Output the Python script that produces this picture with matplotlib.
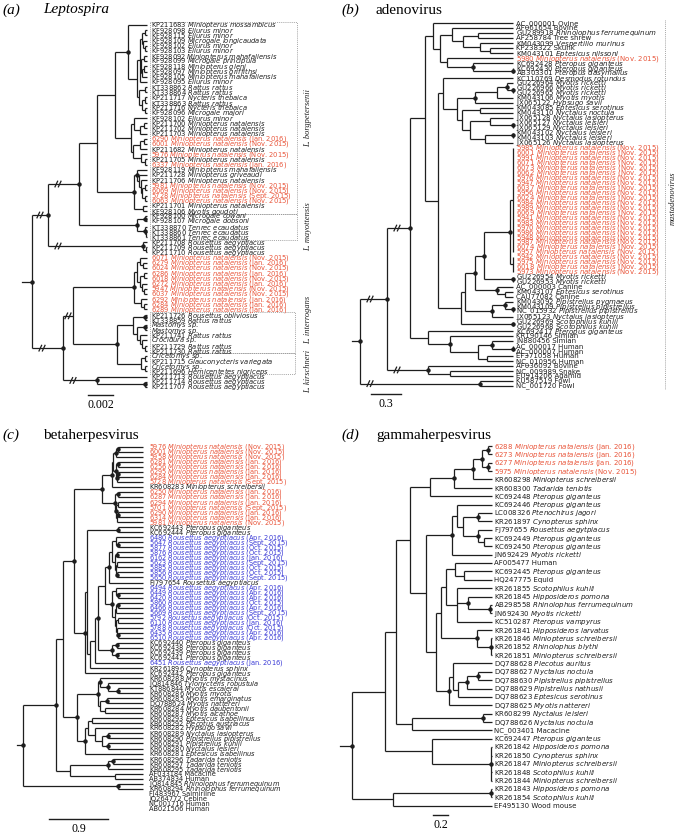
import re
import matplotlib
matplotlib.use("Agg")
import matplotlib.pyplot as plt
from matplotlib.patches import Rectangle

# ======================= DATA =======================
a_labels = [
    "KP211683 Miniopterus mossambicus", "KF928098 Eliurus minor", "KF928115 Eliurus minor",
    "KF928109 Microgale longicaudata", "KF928102 Eliurus minor", "KF928103 Eliurus minor",
    "KF928092 Miniopterus mahafaliensis", "KF928099 Microgale principula", "KF928118 Miniopterus gleni",
    "KF928097 Miniopterus griffithsi", "KF928105 Miniopterus mahafaliensis", "KF928095 Eliurus minor",
    "KT338862 Rattus rattus", "KT338864 Rattus rattus", "KP211717 Nycteris thebaica",
    "KT338863 Rattus rattus", "KP211716 Nycteris thebaica", "KF928096 Microgale majori",
    "KF928102 Eliurus minor", "KP211700 Miniopterus natalensis", "KP211702 Miniopterus natalensis",
    "KP211703 Miniopterus natalensis", "6290 Miniopterus natalensis (Jan. 2016)",
    "6001 Miniopterus natalensis (Nov. 2015)", "KP211682 Miniopterus natalensis",
    "5976 Miniopterus natalensis (Nov. 2015)", "KP211705 Miniopterus natalensis",
    "6337 Miniopterus natalensis (Jan. 2016)", "KF928119 Miniopterus mahafaliensis",
    "KP211728 Miniopterus griveaudi", "KP211706 Miniopterus natalensis",
    "5981 Miniopterus natalensis (Nov. 2015)", "6069 Miniopterus natalensis (Nov. 2015)",
    "5728 Miniopterus natalensis (Sept. 2015)", "6063 Miniopterus natalensis (Nov. 2015)",
    "KP211701 Miniopterus natalensis", "KF928106 Myotis goudoti", "KF928100 Microgale cowani",
    "KF928107 Microgale dobsoni", "KT338870 Tenrec ecaudatus", "KT338860 Tenrec ecaudatus",
    "KT338861 Tenrec ecaudatus", "KP211708 Rousettus aegyptiacus", "KP211709 Rousettus aegyptiacus",
    "KP211710 Rousettus aegyptiacus", "6071 Miniopterus natalensis (Nov. 2015)",
    "6279 Miniopterus natalensis (Jan. 2016)", "6024 Miniopterus natalensis (Nov. 2015)",
    "6286 Miniopterus natalensis (Jan. 2016)", "6018 Miniopterus natalensis (Nov. 2015)",
    "6272 Miniopterus natalensis (Jan. 2016)", "5947 Miniopterus natalensis (Nov. 2015)",
    "6037 Miniopterus natalensis (Nov. 2015)", "6292 Miniopterus natalensis (Jan. 2016)",
    "6284 Miniopterus natalensis (Jan. 2016)", "6289 Miniopterus natalensis (Jan. 2016)",
    "KP211726 Rousettus obliviosus", "KT338859 Rattus rattus", "Mastomys sp.", "Mastomys sp.",
    "KP211741 Rattus rattus", "Crocidura sp.", "KP211729 Rattus rattus", "KP211730 Rattus rattus",
    "Cricetomys sp.", "KP211715 Glauconycteris variegata", "Cricetomys sp.",
    "KP211696 Hemicentetes nigriceps", "KP211713 Rousettus aegyptiacus",
    "KP211714 Rousettus aegyptiacus", "KP211707 Rousettus aegyptiacus",
]

b_labels = [
    "AC_000001 Ovine", "AF061654 Bovine", "GU289918 Rhinolophus ferrumequinum",
    "AF258784 Tree shrew", "KM043099 Vespertilio murinus", "KP238322 Skunk",
    "KM043101 Eptesicus nilssoni", "5980 Miniopterus natalensis (Nov. 2015)",
    "KC692428 Pteropus giganteus", "KC692430 Pteropus giganteus", "AB303301 Pteropus dasymallus",
    "KC110769 Desmodus rotundus", "GU226964 Myotis ricketti", "GU226966 Myotis ricketti",
    "GU226965 Myotis ricketti", "KM043106 Myotis myotis", "JX065122 Hypsugo savii",
    "KM043085 Eptesicus serotinus", "KM043110 Nyctalus noctula", "JX065128 Nyctalus lasiopterus",
    "JX065127 Nyctalus leisleri", "JX065129 Nyctalus leisleri", "KM043102 Nyctalus leisleri",
    "KM043103 Nyctalus leisleri", "JX065126 Nyctalus lasiopterus",
    "5985 Miniopterus natalensis (Nov. 2015)", "6001 Miniopterus natalensis (Nov. 2015)",
    "5991 Miniopterus natalensis (Nov. 2015)", "6071 Miniopterus natalensis (Nov. 2015)",
    "6073 Miniopterus natalensis (Nov. 2015)", "6062 Miniopterus natalensis (Nov. 2015)",
    "5976 Miniopterus natalensis (Nov. 2015)", "5947 Miniopterus natalensis (Nov. 2015)",
    "6037 Miniopterus natalensis (Nov. 2015)", "5956 Miniopterus natalensis (Nov. 2015)",
    "6024 Miniopterus natalensis (Nov. 2015)", "5984 Miniopterus natalensis (Nov. 2015)",
    "5989 Miniopterus natalensis (Nov. 2015)", "6069 Miniopterus natalensis (Nov. 2015)",
    "5941 Miniopterus natalensis (Nov. 2015)", "5983 Miniopterus natalensis (Nov. 2015)",
    "5970 Miniopterus natalensis (Nov. 2015)", "5986 Miniopterus natalensis (Nov. 2015)",
    "5948 Miniopterus natalensis (Nov. 2015)", "5987 Miniopterus natalensis (Nov. 2015)",
    "6074 Miniopterus natalensis (Nov. 2015)", "5957 Miniopterus natalensis (Nov. 2015)",
    "5942 Miniopterus natalensis (Nov. 2015)", "5975 Miniopterus natalensis (Nov. 2015)",
    "6018 Miniopterus natalensis (Nov. 2015)", "5973 Miniopterus natalensis (Nov. 2015)",
    "GU226954 Myotis ricketti", "GU226953 Myotis ricketti", "AC_000003 Canine",
    "KM043107 Eptesicus serotinus", "CAU77082 Canine", "KM043092 Pipistrellus pygmaeus",
    "KM043109 Pipistrellus pipistrellus", "NC_015932 Pipistrellus pipistrellus",
    "JX065123 Nyctalus lasiopterus", "GU226969 Scotophilus kuhlii", "GU226968 Scotophilus kuhlii",
    "KC692417 Pteropus giganteus", "KR190146 Simian", "JN880456 Simian", "AC_000017 Human",
    "AC_000007 Human", "EF371058 Human", "NC_010956 Human", "AF036092 Bovine",
    "NC_009989 Snake", "EU914206 Agamid", "KU587519 Fowl", "NC_001720 Fowl",
]

c_labels = [
    "5976 Miniopterus natalensis (Nov. 2015)", "6001 Miniopterus natalensis (Nov. 2015)",
    "5958 Miniopterus natalensis (Nov. 2015)", "6281 Miniopterus natalensis (Jan. 2016)",
    "6256 Miniopterus natalensis (Jan. 2016)", "6295 Miniopterus natalensis (Jan. 2016)",
    "6284 Miniopterus natalensis (Jan. 2016)", "5728 Miniopterus natalensis (Sept. 2015)",
    "KR608283 Miniopterus schreibersii", "6250 Miniopterus natalensis (Jan. 2016)",
    "6287 Miniopterus natalensis (Jan. 2016)", "6294 Miniopterus natalensis (Jan. 2016)",
    "5701 Miniopterus natalensis (Sept. 2015)", "6290 Miniopterus natalensis (Jan. 2016)",
    "6314 Miniopterus natalensis (Jan. 2016)", "5981 Miniopterus natalensis (Nov. 2015)",
    "KC692443 Pteropus giganteus", "KC692444 Pteropus giganteus",
    "6480 Rousettus aegyptiacus (Apr. 2016)", "5647 Rousettus aegyptiacus (Sept. 2015)",
    "5877 Rousettus aegyptiacus (Oct. 2015)", "5876 Rousettus aegyptiacus (Oct. 2015)",
    "6162 Rousettus aegyptiacus (Jan. 2016)", "5623 Rousettus aegyptiacus (Sept. 2015)",
    "5885 Rousettus aegyptiacus (Oct. 2015)", "5856 Rousettus aegyptiacus (Oct. 2015)",
    "5650 Rousettus aegyptiacus (Sept. 2015)", "FJ797654 Rousettus aegyptiacus",
    "6494 Rousettus aegyptiacus (Apr. 2016)", "6449 Rousettus aegyptiacus (Apr. 2016)",
    "6420 Rousettus aegyptiacus (Apr. 2016)", "5860 Rousettus aegyptiacus (Oct. 2015)",
    "6466 Rousettus aegyptiacus (Apr. 2016)", "5669 Rousettus aegyptiacus (Sept. 2015)",
    "5792 Rousettus aegyptiacus (Oct. 2015)", "6110 Rousettus aegyptiacus (Jan. 2016)",
    "5788 Rousettus aegyptiacus (Oct. 2015)", "6435 Rousettus aegyptiacus (Apr. 2016)",
    "6510 Rousettus aegyptiacus (Apr. 2016)", "KC692440 Pteropus giganteus",
    "KC692438 Pteropus giganteus", "KC692439 Pteropus giganteus", "KC692441 Pteropus giganteus",
    "6451 Rousettus aegyptiacus (Jan. 2016)", "KR261896 Cynopterus sphinx",
    "KC692442 Pteropus giganteus", "KR608288 Myotis mystacinus", "JQ814846 Tylonycteris robustula",
    "KT886844 Myotis escalerai", "KR608286 Myotis myotis", "KR608285 Myotis emarginatus",
    "DQ788624 Myotis nattereri", "KR608284 Myotis daubentonii", "KR608287 Myotis alcathoe",
    "KR608293 Eptesicus isabellinus", "KR608292 Plecotus austriacus", "KR608282 Hypsugo savii",
    "KR608289 Nyctalus lasiopterus", "KR608290 Pipistrellus pipistrellus",
    "KR608291 Pipistrellus kuhlii", "KR608280 Nyctalus leisleri", "KR608281 Eptesicus isabellinus",
    "KR608296 Tadarida teniotis", "KR608297 Tadarida teniotis", "KR608295 Tadarida teniotis",
    "AF033184 Macacine", "AB374834 Human", "JQ814845 Rhinolophus ferrumequinum",
    "KR608294 Rhinolophus ferrumequinum", "FJ483967 Saimiriine", "JQ264772 Cebine",
    "NC001716 Human", "AB021506 Human",
]

d_labels = [
    "6288 Miniopterus natalensis (Jan. 2016)", "6273 Miniopterus natalensis (Jan. 2016)",
    "6277 Miniopterus natalensis (Jan. 2016)", "5975 Miniopterus natalensis (Nov. 2015)",
    "KR608298 Miniopterus schreibersii", "KR608300 Tadarida teniotis",
    "KC692448 Pteropus giganteus", "KC692446 Pteropus giganteus", "LC008326 Ptenochirus jagori",
    "KR261897 Cynopterus sphinx", "FJ797655 Rousettus aegytpiacus", "KC692449 Pteropus giganteus",
    "KC692450 Pteropus giganteus", "JN692429 Myotis ricketti", "AF005477 Human",
    "KC692445 Pteropus giganteus", "HQ247775 Equid", "KR261855 Scotophilus kuhlii",
    "KR261845 Hipposideros pomona", "AB298558 Rhinolophus ferrumequinum",
    "JN692430 Myotis ricketti", "KC510287 Pteropus vampyrus", "KR261841 Hipposideros larvatus",
    "KR261846 Miniopterus schreibersii", "KR261852 Rhinolophus blythi",
    "KR261851 Miniopterus schreibersii", "DQ788628 Plecotus auritus", "DQ788627 Nyctalus noctula",
    "DQ788630 Pipistrellus pipistrellus", "DQ788629 Pipistrellus nathusii",
    "DQ788623 Eptesicus serotinus", "DQ788625 Myotis nattereri", "KR608299 Nyctalus leisleri",
    "DQ788626 Nyctalus noctula", "NC_003401 Macacine", "KC692447 Pteropus giganteus",
    "KR261842 Hipposideros pomona", "KR261850 Cynopterus sphinx",
    "KR261847 Miniopterus schreibersii", "KR261848 Scotophilus kuhlii",
    "KR261844 Miniopterus schreibersii", "KR261843 Hipposideros pomona",
    "KR261854 Scotophilus kuhlii", "EF495130 Wood mouse",
]

# ---- tree topologies: Newick, leaves = label index, '*' = supported node,
# ---- ':' branch length (scale units), '/' = shortened (broken) branch
a_N1 = "(0,((((1,2):3,(3,(4,5):2):1):2,((6,7):3,((8,9):2,10):1):1,11):3,((12,13):6,((14,15):3,(16,17):3):3):2):9)*:13"
a_N3 = "((18,((19,20):4,21):6):3,(((22,23):4,24):7,(25,(26,27):4):8):2):16"
a_C2 = "((28,(29,(30,((31,32):3,(33,34):3):1):2):2)*:3,(35,36):9)*:37"
a_M = "((37,38)*:8,(39,(40,41):1)*:8)*:58"
a_Rz = "(42,(43,44):3)*:95/"
a_Rd = "(((45,(46,47):3):3,((48,49):4,(50,(51,52):2):2):3):3,(53,(54,55):3):7)*:61"
a_G = "(((56,57)*:12,((58,59)*:8,(60,(61,(62,63):3):2):3):4):16,((64,65):4,(66,67):4):24)*:44"
a_H = "(68,(69,70)*:48)*:34/"
a_tree = ("(((((" + a_N1 + "," + a_N3 + "):18," + a_C2 + "):18," + a_M + ")*:31/," + a_Rz + ")*:16/,"
          "((" + a_Rd + "," + a_G + "):10/," + a_H + ")*:31/)*")

b_T = "(0,((1,((2,3):15,(4,(5,6):10):17):11):12,(7,(8,(9,10)*:40)*:26):7):7):8"
b_B1 = "(11,((((12,(13,14)*:6)*:10,15):22,16)*:18,((17,18):18,((19,(20,21)*:23):20,((22,23)*:28,24):15):8):5):14):5"
b_red = "((25,26,27,28,29,30,31,32,33,34,35,36,37,38,39,40,41,42,43,44,45,46):3,(47,48,49,50):3)*:26"
b_R2 = "((" + b_red + ",(51,52)*:29)*:9,(53,(54,55):8)*:22)*:10"
b_R4 = "((" + b_R2 + ",((56,(57,58)*:8)*:13,59)*:27):4,(60,61)*:52):23"
b_V = "(62,(63,((64,(65,66)*:21)*:14,(67,68):9):28)*:22):18"
b_tree = ("((((" + b_T + ",(" + b_B1 + "," + b_R4 + "):13):15," + b_V + ")*:23/,"
          "(69,(70,71):22)*:41/)*:27/,(72,73)*:120/)*")

c_Mini = ("(((((0,1)*:2,2)*:3,((3,4)*:2,((5,6)*:1,7)*:1)*:3):1,8)*:10,"
          "((9,10)*:3,((11,12):2,((13,14)*:1,15):1)*:1)*:13)*:28")
c_BB = ("((((18,(19,20)*:2):4,((21,22)*:2,((23,24):1,(25,26)*:1):1):3):3,27)*:4,"
        "((28,(29,30)*:2):4,(((31,32)*:2,33):1,((34,35):2,(36,(37,38)*:1):1):1):3)*:7):7")
c_U6 = "(((16,17)*:31,(((" + c_BB + ",((39,40)*:5,(41,42)*:5)*:14)*:3,43):5,44):3):2,45)*:11"
c_My = "((46,(47,(48,49)*:10)*:8)*:2,((50,51)*:7,(52,53):5):2)*:21"
c_Ve = "(((54,55):4,(56,((57,58)*:6,(59,60)*:6):7):7):3,61)*:8"
c_tree = ("((((" + c_Mini + "," + c_U6 + ")*:11,(" + c_My + "," + c_Ve + ")*:14):7,"
          "(((62,63)*:5,64)*:38,(65,66):45):14)*:33,(67,68)*:95)*:25,((69,70)*:32,(71,72)*:25)*:77)*")

d_MiniC = "(((((0,1)*:6,(2,3)*:6)*:9,4)*:19,5)*:24,6):20"
d_Pt = "((7,((8,9)*:15,(10,(11,12):6)*:15):6):5,13)*:26"
d_N442 = "(((14,(15,16):9):9,(17,(18,(19,20)*:22)*:11,21):11):5,(22,(23,24,25)*:14)*:36):5"
d_DqA = "((26,(((27,28)*:11,29)*:9,30):5):4,31)*:13"
d_tree = ("((((" + d_MiniC + ",(" + d_Pt + ",(" + d_N442 + "," + d_DqA + "):10):16):14,"
          "((32,33)*:71,34):16):11,(35,(36,37,38,39,40)*:59):47):33,((41,42)*:98,43):41)*")

a_groups = [("L. borgpetersenii", 0, 36), ("L. mayottensis", 37, 41),
            ("L. interrogans", 51, 63), ("L. kirschneri", 64, 70)]
a_boxes = [(0, 36), (37, 41), (56, 63), (64, 67)]
b_groups = [("mastadenovirus", 0, 73)]

COMMON = {"Ovine", "Bovine", "Tree shrew", "Skunk", "Canine", "Simian", "Human", "Snake",
          "Agamid", "Fowl", "Macacine", "Saimiriine", "Cebine", "Equid", "Wood mouse"}

# ======================= STYLE / LAYOUT =======================
RED = "#e9553a"
BLUE = "#3a3ad6"
INK = "#1e1e1e"
SERIF = "Liberation Serif"
LW = 0.9

panels = [
    dict(labels=a_labels, tree=a_tree, root_x=32, stub=10, tip=147, lab_x=151, y0=25.0, dy=5.17,
         fs=4.9, bar=(88, 395, 25, "0.002"), tag=("(a)", 2, 10), title=("Leptospira", 43, 10, "italic")),
    dict(labels=b_labels, tree=b_tree, root_x=360, stub=8, tip=513, lab_x=516, y0=23.3, dy=4.97,
         fs=5.0, bar=(371, 394, 30, "0.3"), tag=("(b)", 341, 10), title=("adenovirus", 376, 10, "normal")),
    dict(labels=c_labels, tree=c_tree, root_x=23, stub=6, tip=143, lab_x=149, y0=446.7, dy=5.03,
         fs=4.8, bar=(49, 819, 59, "0.9"), tag=("(c)", 2, 435), title=("betaherpesvirus", 43, 435, "normal")),
    dict(labels=d_labels, tree=d_tree, root_x=352, stub=12, tip=492, lab_x=494, y0=446.0, dy=8.365,
         fs=5.0, bar=(433, 815, 15, "0.2"), tag=("(d)", 341, 435), title=("gammaherpesvirus", 376, 435, "normal")),
]


def fmt_label(s):
    m = re.match(r"^(.*?)\s*(\([A-Za-z]+\.? \d{4}\))?$", s)
    body, date = m.group(1), m.group(2)
    parts = body.split(" ", 1)
    if any(ch.isdigit() for ch in parts[0]):
        acc, host = parts[0], (parts[1] if len(parts) > 1 else "")
    else:
        acc, host = "", body
    if host in COMMON or host == "":
        host_txt = host
    else:
        host_txt = r"$\mathit{" + host.replace(" ", r"\ ") + "}$"
    txt = " ".join(t for t in (acc, host_txt, date) if t)
    color = INK
    if date:
        color = RED if host.startswith("Miniopterus") else BLUE
    return txt, color


def parse_newick(s):
    s = s.replace(" ", "")
    pos = 0

    def node():
        nonlocal pos
        n = {"kids": [], "leaf": None, "dot": False, "brk": False, "len": 0.0}
        if s[pos] == "(":
            pos += 1
            n["kids"].append(node())
            while s[pos] == ",":
                pos += 1
                n["kids"].append(node())
            pos += 1
        else:
            j = pos
            while s[pos].isdigit():
                pos += 1
            n["leaf"] = int(s[j:pos])
        if pos < len(s) and s[pos] == "*":
            n["dot"] = True
            pos += 1
        if pos < len(s) and s[pos] == ":":
            pos += 1
            j = pos
            while pos < len(s) and (s[pos].isdigit() or s[pos] == "."):
                pos += 1
            n["len"] = float(s[j:pos])
        if pos < len(s) and s[pos] == "/":
            n["brk"] = True
            pos += 1
        return n

    return node()


def place(n, x, tip, y0, dy):
    if n["leaf"] is not None:
        n["x"] = tip
        n["y"] = y0 + n["leaf"] * dy
        return
    n["x"] = x
    for k in n["kids"]:
        place(k, x + k["len"], tip, y0, dy)
    n["y"] = 0.5 * (n["kids"][0]["y"] + n["kids"][-1]["y"])


def draw_tree(ax, n):
    if n["kids"]:
        ax.plot([n["x"], n["x"]], [n["kids"][0]["y"], n["kids"][-1]["y"]],
                color=INK, lw=LW, solid_capstyle="butt")
        for k in n["kids"]:
            if k["x"] > n["x"]:
                ax.plot([n["x"], k["x"]], [k["y"], k["y"]], color=INK, lw=LW,
                        solid_capstyle="butt")
            if k["brk"]:
                xm = n["x"] + min(0.5 * (k["x"] - n["x"]), 10)
                for dx in (-1.7, 1.7):
                    ax.plot([xm + dx - 1.3, xm + dx + 1.3], [k["y"] + 2.8, k["y"] - 2.8],
                            color=INK, lw=LW)
            draw_tree(ax, k)
    if n["dot"]:
        ax.plot(n["x"], n["y"], "o", ms=3.2, color=INK, mec="none", zorder=5)


fig = plt.figure(figsize=(6.79, 8.35), dpi=100)
ax = fig.add_axes([0, 0, 1, 1])
ax.set_xlim(0, 679)
ax.set_ylim(835, 0)
ax.axis("off")

for p in panels:
    root = parse_newick(p["tree"])
    place(root, p["root_x"], p["tip"], p["y0"], p["dy"])
    ax.plot([p["root_x"] - p["stub"], p["root_x"]], [root["y"], root["y"]], color=INK, lw=LW)
    draw_tree(ax, root)
    for i, lab in enumerate(p["labels"]):
        txt, col = fmt_label(lab)
        ax.text(p["lab_x"], p["y0"] + i * p["dy"], txt, fontsize=p["fs"], color=col,
                ha="left", va="center")
    bx, by, blen, btxt = p["bar"]
    ax.plot([bx, bx + blen], [by, by], color=INK, lw=1.0)
    ax.text(bx + blen / 2, by + 10, btxt, fontsize=8.5, family=SERIF, ha="center", va="center")
    t, tx, ty = p["tag"]
    ax.text(tx, ty, t, fontsize=11, family=SERIF, style="italic", ha="left", va="center")
    tt, ttx, tty, tst = p["title"]
    ax.text(ttx, tty, tt, fontsize=11, family=SERIF, style=tst, ha="left", va="center")

# panel (a) dotted clade boxes and species labels
pa = panels[0]
ya = lambda i: pa["y0"] + i * pa["dy"]
for (i0, i1), xr in zip(a_boxes, (297, 297, 295, 295)):
    ax.add_patch(Rectangle((150, ya(i0) - 2.6), xr - 150, ya(i1) - ya(i0) + 5.2, fill=False,
                           ls=(0, (1, 1.3)), lw=0.6, ec="#8c8c8c"))
for name, i0, i1 in a_groups:
    ax.text(308, 0.5 * (ya(i0) + ya(i1)), name, rotation=90, fontsize=6, family=SERIF,
            style="italic", ha="center", va="center", color=INK)

# panel (b) genus bracket
pb = panels[1]
yb = lambda i: pb["y0"] + i * pb["dy"]
for name, i0, i1 in b_groups:
    ax.plot([665, 665], [yb(i0) - 3, yb(i1) + 3], color="#8c8c8c", lw=0.6, ls=(0, (1, 1.3)))
    ax.text(673, 0.5 * (yb(i0) + yb(i1)) - 6, name, rotation=90, fontsize=6, family=SERIF,
            style="italic", ha="center", va="center", color=INK)

fig.savefig("out.png", dpi=100)
